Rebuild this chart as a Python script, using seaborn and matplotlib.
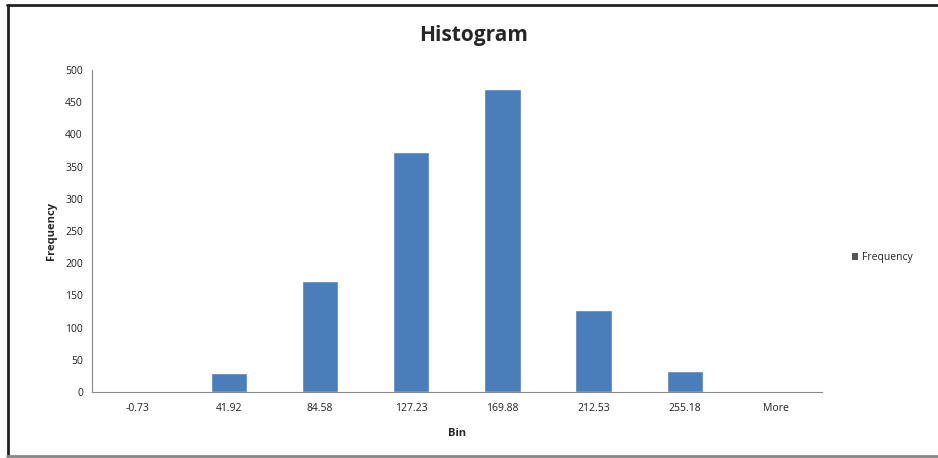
import matplotlib.pyplot as plt
import seaborn as sns
import pandas as pd
from matplotlib.patches import Patch
from matplotlib.lines import Line2D

bins = ["-0.73", "41.92", "84.58", "127.23", "169.88", "212.53", "255.18", "More"]
frequency = [0, 29, 173, 372, 470, 128, 32, 2]

df = pd.DataFrame({"Bin": bins, "Frequency": frequency})

sns.set_style("white")
plt.rcParams['font.family'] = ['Open Sans', 'DejaVu Sans']

bar_color = "#4A7EBB"
fig = plt.figure(figsize=(9.38, 4.58), dpi=100)
ax = fig.add_axes([0.098, 0.144, 0.778, 0.703])

sns.barplot(data=df, x="Bin", y="Frequency", color=bar_color, width=0.4,
            saturation=1, ax=ax)

ax.set_ylim(0, 500)
ax.set_xlim(-0.5, len(bins) - 0.5)
ax.set_yticks(range(0, 501, 50))
ax.tick_params(axis='both', labelsize=7.5, length=3, direction='out',
               width=0.8, color="#888888")
ax.tick_params(axis='x', length=0, pad=8)
# Excel style ticks between categories
ax.set_xticks([i - 0.5 for i in range(len(bins) + 1)], minor=True)
ax.tick_params(axis='x', which='minor', length=3, color="#888888")
for lab in ax.get_xticklabels() + ax.get_yticklabels():
    lab.set_color("#222222")

for s in ["top", "right"]:
    ax.spines[s].set_visible(False)
for s in ["left", "bottom"]:
    ax.spines[s].set_color("#888888")
    ax.spines[s].set_linewidth(0.8)

ax.set_xlabel("Bin", fontsize=8, fontweight='bold', labelpad=10)
ax.set_ylabel("Frequency", fontsize=8, fontweight='bold', labelpad=6)
fig.text(0.505, 0.922, "Histogram", ha='center', va='center',
         fontsize=15, fontweight='bold')

handle = Patch(facecolor="#555555", edgecolor="none")
fig.legend([handle], ["Frequency"], loc='center left',
           bbox_to_anchor=(0.898, 0.437), frameon=False, fontsize=7.5,
           handlelength=0.6, handleheight=0.6, handletextpad=0.4)

# outer frame: dark left/top, gray bottom
fig.add_artist(Line2D([0.008, 0.008], [0.004, 0.989], transform=fig.transFigure,
                      color="#222222", linewidth=2))
fig.add_artist(Line2D([0.007, 1.0], [0.989, 0.989], transform=fig.transFigure,
                      color="#222222", linewidth=2))
fig.add_artist(Line2D([0.007, 1.0], [0.004, 0.004], transform=fig.transFigure,
                      color="#888888", linewidth=2))

fig.savefig("out.png", dpi=100)
